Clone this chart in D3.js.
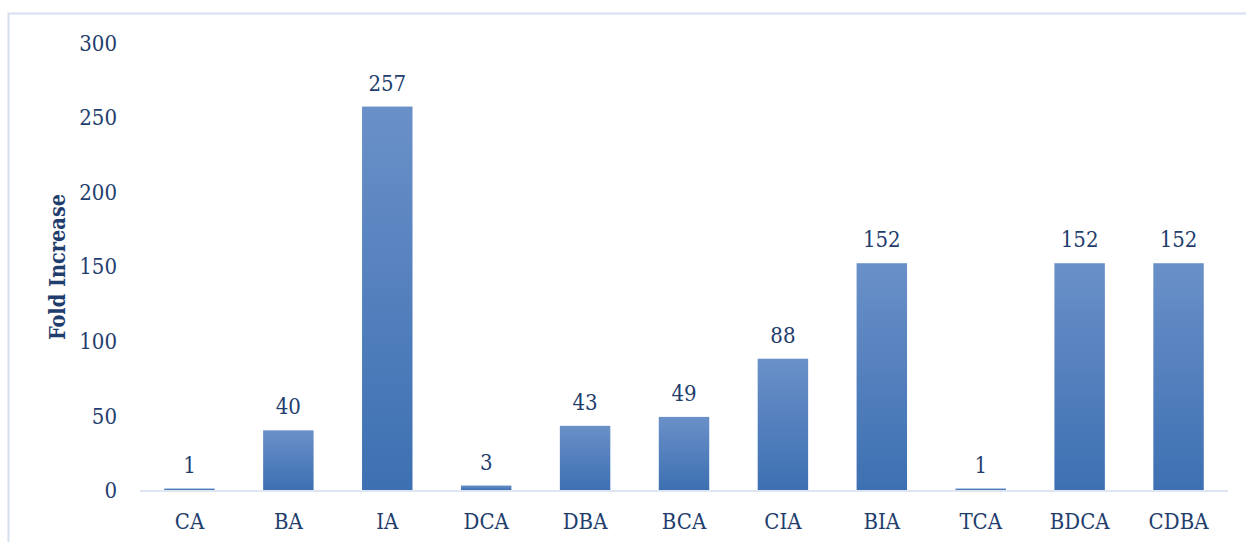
<!DOCTYPE html>
<html>
<head>
<meta charset="utf-8">
<script src="https://cdn.jsdelivr.net/npm/d3@7"></script>
<style>
  html, body { margin: 0; padding: 0; background: #fff; }
  svg { display: block; }
  .num { font-family: "DejaVu Serif", serif; font-stretch: condensed; fill: #1f3e6e; }
</style>
</head>
<body>
<svg id="chart" width="1246" height="542"></svg>
<script>
// Fold increase per group
const categories = ["CA", "BA", "IA", "DCA", "DBA", "BCA", "CIA", "BIA", "TCA", "BDCA", "CDBA"];
const foldIncrease = [1, 40, 257, 3, 43, 49, 88, 152, 1, 152, 152];
const yTicks = [0, 50, 100, 150, 200, 250, 300];

const svg = d3.select("#chart");
const W = 1246, H = 542;
const margin = { left: 140, right: 18, top: 42.4, bottom: 52 };

// outer chart frame
svg.append("rect")
  .attr("x", 8.5).attr("y", 13.5)
  .attr("width", W + 10).attr("height", H + 10)
  .attr("fill", "none").attr("stroke", "#d6e0f0").attr("stroke-width", 2);

const x = d3.scaleBand()
  .domain(categories)
  .range([margin.left, W - margin.right])
  .paddingInner(0.49).paddingOuter(0.245);

const y = d3.scaleLinear()
  .domain([0, 300])
  .range([490, margin.top]);

// vertical gradient for bars
const grad = svg.append("defs").append("linearGradient")
  .attr("id", "barFill").attr("x1", 0).attr("y1", 0).attr("x2", 0).attr("y2", 1);
grad.append("stop").attr("offset", "0%").attr("stop-color", "#6a90c8");
grad.append("stop").attr("offset", "100%").attr("stop-color", "#3d70b2");

const data = categories.map((c, i) => ({ c, v: foldIncrease[i] }));

svg.append("g").selectAll("rect")
  .data(data).join("rect")
  .attr("x", d => x(d.c))
  .attr("y", d => y(d.v))
  .attr("width", x.bandwidth())
  .attr("height", d => y(0) - y(d.v))
  .attr("fill", "url(#barFill)");

// category axis line
svg.append("line")
  .attr("x1", margin.left).attr("x2", W - margin.right)
  .attr("y1", y(0) + 1).attr("y2", y(0) + 1)
  .attr("stroke", "#d3def0").attr("stroke-width", 1.5);

// y tick labels
const yAxis = d3.axisLeft(y).tickValues(yTicks).tickSize(0).tickPadding(0);
const gy = svg.append("g").attr("transform", "translate(117,0)").call(yAxis);
gy.select(".domain").remove();
gy.selectAll("text")
  .attr("class", "num")
  .attr("font-size", 22)
  .attr("dy", "0.35em");

// category labels
const xAxis = d3.axisBottom(x).tickSize(0).tickPadding(0);
const gx = svg.append("g").call(xAxis);
gx.select(".domain").remove();
gx.selectAll("text")
  .attr("class", "num")
  .attr("font-size", 22)
  .attr("y", 529).attr("dy", 0);

// value labels
svg.append("g").selectAll("text")
  .data(data).join("text")
  .attr("class", "num")
  .attr("font-size", 22)
  .attr("text-anchor", "middle")
  .attr("x", d => x(d.c) + x.bandwidth() / 2)
  .attr("y", d => y(d.v) - 16)
  .text(d => d.v);

// y axis title
svg.append("text")
  .attr("transform", "translate(65,267) rotate(-90)")
  .attr("text-anchor", "middle")
  .attr("font-family", "DejaVu Serif, serif")
  .attr("font-stretch", "condensed")
  .attr("font-weight", "bold")
  .attr("font-size", 21.5)
  .attr("fill", "#1f3e6e")
  .text("Fold Increase");
</script>
</body>
</html>
